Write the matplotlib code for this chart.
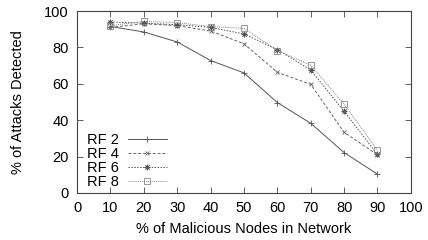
import matplotlib
matplotlib.use("Agg")
import matplotlib.pyplot as plt

plt.rcParams['font.family'] = ['Liberation Sans', 'DejaVu Sans']

malicious = [10, 20, 30, 40, 50, 60, 70, 80, 90]
rf2 = [91.5, 88.5, 83, 72.8, 66, 49.7, 38.3, 22.2, 10.3]
rf4 = [91, 93, 92, 89, 82, 66.3, 59.7, 33.3, 21]
rf6 = [94, 93.3, 92.5, 91, 87.4, 78.8, 67.6, 44.8, 21.2]
rf8 = [92, 94.3, 93.6, 91.5, 90.5, 78.3, 70.2, 48.8, 23.5]

fig = plt.figure(figsize=(4.28, 2.4), dpi=100)
ax = fig.add_axes([0.18, 0.196, 0.78, 0.758])

ax.plot(malicious, rf2, color='#555555', lw=0.7, ls='-', marker='+', ms=4, mew=0.6, label='RF 2')
ax.plot(malicious, rf4, color='#666666', lw=0.7, ls=(0, (3, 2)), marker='x', ms=3.5, mew=0.6, label='RF 4')
ax.plot(malicious, rf6, color='#555555', lw=0.7, ls=(0, (1.5, 1.5)), marker=(8, 2, 0), ms=4, mew=0.6, label='RF 6')
ax.plot(malicious, rf8, color='#888888', lw=0.7, ls=(0, (1, 1)), marker='s', ms=4, mew=0.6, mfc='none', label='RF 8')

ax.set_xlim(0, 100)
ax.set_ylim(0, 100)
ax.set_xticks(range(0, 101, 10))
ax.set_yticks(range(0, 101, 20))
ax.tick_params(direction='in', top=True, right=True, labelsize=10.5, length=4, width=0.6,
               color='#444444', pad=6)
for s in ax.spines.values():
    s.set_linewidth(0.8)
    s.set_color('#444444')
ax.set_xlabel('% of Malicious Nodes in Network', fontsize=10.5, labelpad=5)
ax.set_ylabel('% of Attacks Detected', fontsize=10.5, labelpad=14)

ax.legend(loc='lower left', bbox_to_anchor=(0.012, -0.01), frameon=False, markerfirst=False,
          fontsize=10.5, handlelength=2.7, labelspacing=0.0, borderaxespad=0.0,
          handletextpad=0.6)

fig.savefig('out.png', dpi=100)
